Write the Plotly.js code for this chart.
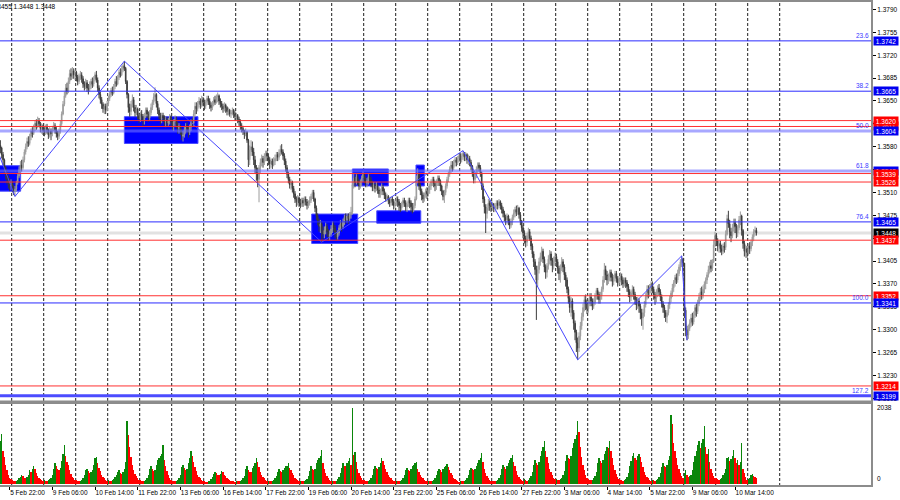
<!DOCTYPE html>
<html><head><meta charset="utf-8">
<script src="https://cdn.plot.ly/plotly-3.0.1.min.js"></script>
<style>html,body{margin:0;padding:0;background:#fff;}#chart{width:900px;height:500px;}</style>
</head><body><div id="chart"></div>
<script>
// Hourly GBPUSD bars, 5 Feb 15:00 .. 11 Mar 06:00. Prices stored as pips above 1.3000.
const firstOpenPips = 582;
const closePips = [
578,568,560,548,538,530,526,520,524,518,512,515,
525,535,545,552,548,560,572,580,588,585,596,604,600,610,616,612,620,
615,608,612,605,602,610,606,598,604,600,608,612,606,600,596,604,615,
630,645,658,670,665,680,692,688,696,
690,694,686,680,688,690,684,676,672,678,670,668,674,
680,676,684,690,682,670,660,652,
645,638,642,636,646,654,660,
666,662,672,680,676,686,694,690,698,704,700,
680,660,640,634,
645,652,640,632,638,628,622,630,626,620,628,636,630,624,632,640,648,656,660,646,636,628,622,
628,624,618,622,616,620,626,618,612,618,622,614,608,612,604,596,598,606,612,608,602,610,618,616,630,642,638,646,
650,644,652,648,642,648,654,650,644,640,646,652,648,656,658,650,646,
642,638,644,640,634,636,630,632,636,630,626,628,622,618,612,
608,604,600,602,590,560,575,580,572,560,548,540,530,548,556,
562,556,564,570,566,560,554,558,552,558,562,568,564,570,576,572,566,558,
548,538,530,522,526,516,508,500,496,502,494,492,
498,494,500,496,490,494,498,504,510,500,486,474,466,458,462,452,446,452,458,450,442,446,454,460,456,448,442,448,456,462,
458,466,472,468,474,470,476,480,522,532,526,
534,528,520,526,532,538,530,524,528,534,530,524,518,522,516,
520,514,508,512,518,512,506,500,504,
498,494,500,496,490,494,500,496,490,486,492,498,494,488,492,498,494,488,484,490,500,
530,538,520,512,506,500,506,512,508,514,520,
526,530,524,520,526,532,528,520,512,504,510,
520,530,538,546,552,548,556,560,556,562,566,560,566,570,
564,568,560,562,556,550,540,530,536,546,552,548,540,520,500,488,478,486,494,490,
488,492,486,490,494,490,496,490,484,478,472,468,474,466,460,466,472,478,484,480,486,476,466,456,448,440,434,444,450,440,
428,416,404,392,376,392,404,412,
420,408,396,388,398,408,416,406,398,404,412,404,394,386,394,
404,396,384,376,362,348,334,344,326,310,296,280,272,
290,306,320,334,346,340,332,340,350,344,336,342,352,360,354,346,352,
362,376,392,384,376,382,388,380,374,380,386,378,372,378,382,376,370,376,372,
366,358,350,356,362,354,346,338,344,336,326,318,326,
338,350,362,356,364,370,362,354,348,
356,364,358,350,340,334,326,320,326,338,
348,356,364,372,380,376,386,396,404,408,
402,330,300,292,302,
310,318,312,322,334,328,340,
350,358,352,362,370,376,
384,392,398,394,404,
430,444,436,428,432,424,420,428,426,
446,470,462,450,
444,456,464,458,448,456,468,474,
452,432,420,424,418,428,424,
434,442,450,452,448];
const highPips = [
590,580,572,562,550,542,536,532,530,528,522,520,
528,540,550,558,560,565,576,585,594,596,600,608,610,614,620,622,626,
624,618,616,614,610,614,615,608,610,608,612,618,616,610,604,608,620,
634,650,664,676,678,686,698,700,702,
700,698,696,690,692,696,694,688,680,684,682,676,680,
684,686,688,694,696,686,674,664,
656,648,646,646,650,658,664,
670,672,676,684,688,690,698,700,704,708,711,
702,682,662,646,
650,660,656,644,644,640,632,634,636,630,632,640,640,634,636,646,652,662,671,662,650,640,632,
632,632,628,626,626,624,630,628,622,622,628,626,618,616,614,608,604,610,616,618,612,614,622,624,636,648,648,650,
656,654,658,656,652,652,658,658,654,648,650,656,658,660,663,660,654,
650,646,648,646,642,640,638,636,640,638,634,632,630,626,622,
616,612,606,608,604,592,582,590,588,578,566,552,548,552,562,
568,566,570,574,574,570,564,562,562,564,568,572,572,576,582,584,576,570,
562,552,542,534,530,528,520,512,504,506,504,500,
502,502,504,504,500,498,504,508,514,514,502,490,478,470,468,466,458,458,464,462,454,452,460,466,466,460,452,452,460,468,
466,470,476,478,478,478,480,488,528,540,536,
538,538,530,530,536,542,540,534,532,538,538,534,528,526,524,
526,524,518,516,524,522,516,510,508,
506,502,504,504,500,498,504,504,500,494,496,502,502,498,496,502,502,498,494,494,504,
536,547,540,524,516,510,510,516,518,520,524,
530,534,534,528,530,536,536,530,522,514,514,
524,534,542,550,558,558,560,564,564,566,570,570,570,574,
572,572,570,568,566,560,552,544,540,550,556,556,552,542,524,504,492,492,500,498,
496,496,494,494,498,498,500,498,494,488,482,476,478,476,470,470,476,484,488,490,491,488,480,468,460,452,444,448,456,454,
444,432,420,408,398,398,410,418,
427,424,412,400,402,414,422,420,410,412,418,416,408,398,400,
411,408,400,388,380,366,352,350,348,330,314,300,288,
296,312,326,340,352,354,346,346,356,356,348,348,356,364,364,358,358,
366,382,402,398,390,386,392,392,386,384,390,390,382,382,388,386,380,380,380,
376,370,362,360,368,366,358,350,350,348,340,332,332,
344,356,368,368,370,374,374,366,358,
362,368,370,362,354,344,338,330,330,342,
352,360,370,376,384,386,392,400,408,413,
410,360,334,306,308,
316,324,326,328,338,340,346,
356,364,366,368,374,380,
388,398,404,407,408,
438,450,448,440,436,436,430,432,434,
452,476,482,468,
456,462,470,470,462,460,474,481,
476,454,436,430,428,432,434,
438,446,454,458,456];
const lowPips = [
570,562,552,540,530,522,516,512,514,510,506,504,
512,522,532,540,542,545,556,568,576,580,582,590,594,598,604,606,608,
610,602,600,598,596,598,600,592,594,590,596,604,600,594,590,592,600,
612,628,642,655,660,662,676,682,684,
684,682,680,674,676,682,678,670,666,668,664,660,664,
668,670,672,680,678,664,654,646,
638,632,630,630,634,642,650,
656,658,660,668,672,674,682,686,688,694,696,
676,654,632,626,
628,640,634,626,628,622,616,618,620,612,614,624,624,618,620,628,636,644,650,640,630,622,614,
616,618,612,610,610,612,614,612,606,604,612,608,600,600,598,590,588,594,600,602,594,598,604,610,612,626,630,634,
640,638,640,642,636,638,644,644,638,634,636,642,644,646,648,644,640,
636,632,634,632,628,628,626,624,628,624,620,620,616,612,606,
602,598,592,596,586,549,552,566,566,552,540,528,518,495,540,
550,548,552,558,558,552,546,548,546,550,552,558,558,560,566,568,560,552,
542,532,524,516,514,510,502,494,488,490,488,486,
488,488,490,490,484,486,490,494,500,496,480,468,460,450,448,434,438,440,446,442,436,437,442,448,450,440,436,438,444,452,
450,454,460,462,464,462,466,470,476,516,518,
522,522,514,516,520,526,524,518,518,522,524,518,512,512,510,
512,508,502,502,506,506,500,496,496,
492,488,490,490,484,486,490,488,482,480,482,488,488,482,480,488,486,480,478,480,486,
498,524,514,506,498,494,496,502,500,504,508,
514,520,518,512,514,520,520,512,506,498,494,
506,516,526,534,540,542,544,550,550,552,556,554,556,560,
558,558,554,552,550,544,534,524,524,532,540,542,534,514,494,478,448,470,482,482,
480,482,480,480,484,484,486,484,478,472,466,460,462,460,454,456,460,468,472,474,476,470,460,450,440,432,426,428,438,436,
422,410,396,384,315,366,386,398,
404,402,388,378,380,392,400,398,388,392,398,396,386,376,372,
390,388,376,366,356,340,326,320,316,300,284,266,254,
266,284,300,314,328,330,324,326,336,336,330,332,338,346,346,340,340,
346,358,372,376,368,370,374,374,366,368,374,372,366,368,372,368,364,366,364,
358,350,342,344,350,346,338,330,332,326,316,306,300,
320,334,346,348,350,356,356,346,338,
342,350,352,344,334,326,318,312,310,322,
332,342,350,358,366,370,372,382,390,396,
396,318,290,284,286,
298,304,306,308,318,320,324,
336,344,346,348,356,362,
370,380,386,388,390,
402,426,428,420,418,418,414,416,418,
422,444,456,440,
434,440,450,448,440,442,452,460,
444,424,412,410,410,414,416,
420,428,436,444,444];
// Tick volumes, one row per trading day
const tickVolume = [
1150,1350,900,720,520,380,260,180,140,
110,90,80,100,120,160,200,240,220,180,170,210,260,380,340,420,480,400,300,220,180,150,120,90,
120,100,90,110,140,180,260,420,560,480,400,380,450,620,800,1040,760,600,520,380,280,200,160,120,
110,90,80,100,130,170,240,380,420,350,300,320,380,520,700,720,560,440,360,260,200,160,130,100,
120,100,90,110,150,200,260,320,380,300,280,340,400,600,1680,1300,1000,720,520,380,280,220,170,130,
110,90,90,100,130,180,260,420,480,400,360,380,520,640,700,760,820,1050,640,480,360,260,180,120,
100,90,80,100,120,170,240,460,520,440,380,420,560,700,900,760,600,460,360,260,200,160,120,90,
80,70,70,80,100,140,200,280,340,300,260,240,280,350,320,260,220,180,150,120,100,90,80,70,
90,80,80,90,120,160,220,420,500,380,340,320,440,500,560,690,600,460,340,260,200,160,120,90,
100,90,80,100,120,160,220,320,400,360,320,380,440,480,500,560,440,380,300,240,180,140,110,90,
100,90,80,90,120,150,220,360,480,420,380,420,560,640,700,760,910,560,420,300,220,160,120,90,
100,90,80,100,140,200,300,440,560,500,480,560,620,700,520,2038,770,860,600,420,300,220,160,120,
110,90,80,100,130,180,260,420,500,440,400,460,560,690,620,520,420,340,260,200,160,130,100,80,
100,90,80,100,120,160,240,380,440,380,360,420,480,520,560,590,420,340,260,200,160,120,100,80,
100,90,80,100,130,170,240,360,420,380,340,400,460,500,530,460,380,300,240,180,140,110,90,70,
90,80,80,100,130,180,260,380,440,400,380,420,480,560,640,700,830,600,420,300,220,170,130,100,
100,90,80,100,130,170,240,420,520,460,400,480,560,640,700,770,600,480,360,260,200,150,120,90,
140,120,100,130,170,220,320,520,640,560,520,600,760,900,1000,1140,900,720,560,420,320,240,180,140,
150,130,120,140,180,240,360,620,780,700,680,760,960,1100,1200,1300,1670,1400,1000,720,520,380,260,180,
140,120,110,130,170,220,340,560,700,620,560,640,800,900,1000,960,1140,900,700,520,380,280,200,150,
120,110,100,120,150,200,300,480,620,760,830,700,640,760,800,720,600,460,340,260,200,160,120,100,
130,110,100,120,150,200,300,460,560,500,460,520,640,760,1840,1600,1100,900,700,520,400,300,220,160,
300,380,260,200,220,260,380,600,760,900,1040,1140,960,1100,1200,1550,1000,800,950,600,420,300,220,160,
160,140,130,150,180,240,300,420,700,740,620,680,760,917,700,560,660,520,600,1100,420,300,200,120,
140,160,240,270,220,200,160];

const timeLabels = ['5 Feb 22:00','9 Feb 06:00','10 Feb 14:00','11 Feb 22:00','13 Feb 06:00','16 Feb 14:00','17 Feb 22:00','19 Feb 06:00','20 Feb 14:00','23 Feb 22:00','25 Feb 06:00','26 Feb 14:00','27 Feb 22:00','3 Mar 06:00','4 Mar 14:00','5 Mar 22:00','9 Mar 06:00','10 Mar 14:00'];
const timeLabelBars = [7,39,71,103,135,167,199,231,263,295,327,359,391,423,455,487,519,551];
const priceTicks = [1.3790,1.3755,1.3720,1.3685,1.3650,1.3615,1.3580,1.3545,1.3510,1.3475,1.3440,1.3405,1.3370,1.3335,1.3300,1.3265,1.3230,1.3195];

// ZigZag swing points (bar, price)
const zigzagBars = [-5, 11, 93, 241, 347, 433, 511, 515];
const zigzagPrices = [1.3589, 1.3504, 1.3711, 1.3434, 1.3574, 1.3254, 1.3413, 1.3284];

// Supply/demand zones
const zoneStartBar = [-1, 93, 233.5, 264, 282.3, 311.7];
const zoneEndBar = [15.2, 148.2, 268, 291, 315.3, 318];
const zoneTop = [1.3551, 1.3626, 1.3477, 1.3546, 1.3482, 1.3552];
const zoneBottom = [1.3512, 1.3585, 1.3432, 1.3520, 1.3463, 1.3520];

// Horizontal levels (drawing order) and their kind
const levelPrices = [1.3742, 1.3665, 1.3611, 1.3620, 1.3604, 1.3543, 1.3539, 1.3526, 1.3465, 1.3448, 1.3437, 1.3352, 1.3341, 1.3214, 1.3199];
const levelKinds = ['fib','fib','red','red','fibWide','fibWide','red','red','fib','bid','red','red','fib','red','fibBold'];
const fibNames = ['23.6','38.2','50.0','61.8','76.4','100.0','127.2'];
const fibPrices = [1.3742, 1.3665, 1.3604, 1.3543, 1.3465, 1.3341, 1.3199];
const volumeMaxLabel = 2038;

// ---------- build ----------
const P = v => 1.3 + v / 10000;
const n = closePips.length;
const bars = Array.from({length: n}, (_, i) => i);
const close = closePips.map(P);
const open = close.map((c, i) => i ? close[i - 1] : P(firstOpenPips));
const high = highPips.map((h, i) => Math.max(P(h), open[i], close[i]));
const low = lowPips.map((l, i) => Math.min(P(l), open[i], close[i]));
const volColors = tickVolume.map((v, i) => (i === 0 || v > tickVolume[i - 1]) ? '#0a860a' : '#ff0000');

const FONT = 'Liberation Sans, Arial, sans-serif';
const traces = [
  {type: 'candlestick', x: bars, open: open, high: high, low: low, close: close, xaxis: 'x', yaxis: 'y',
   increasing: {line: {color: '#9c9c9c', width: 1}, fillcolor: '#9c9c9c'},
   decreasing: {line: {color: '#3a3a3a', width: 1}, fillcolor: '#3a3a3a'},
   whiskerwidth: 0, hoverinfo: 'skip', showlegend: false},
  {type: 'scatter', mode: 'lines', x: zigzagBars, y: zigzagPrices, xaxis: 'x', yaxis: 'y',
   line: {color: '#4646ff', width: 1}, hoverinfo: 'skip', showlegend: false},
  {type: 'bar', x: bars, y: tickVolume, xaxis: 'x', yaxis: 'y2', width: 1,
   marker: {color: volColors, line: {width: 0}}, hoverinfo: 'skip', showlegend: false}
];

const shapes = [];
for (let k = 0; k < zoneStartBar.length; k++) {
  shapes.push({type: 'rect', layer: 'below', xref: 'x', yref: 'y', x0: zoneStartBar[k], x1: zoneEndBar[k], y0: zoneBottom[k], y1: zoneTop[k],
    fillcolor: '#0000ff', line: {color: '#4d4dff', width: 1}});
}
// daily separators (first midnight after 9 bars, then every 24 bars)
for (let d = 0; d <= 24; d++) {
  shapes.push({type: 'line', layer: 'below', xref: 'x', yref: 'paper', x0: 8.5 + 24 * d, x1: 8.5 + 24 * d, y0: 0, y1: 1,
    line: {color: '#1e1e1e', width: 1, dash: '3px,2px'}});
}
const levelStyle = {
  fib: {color: '#2b2bff', width: 1, layer: 'above'},
  fibWide: {color: 'rgba(110,110,255,0.6)', width: 3, layer: 'above'},
  fibBold: {color: '#4c4cff', width: 3, layer: 'above'},
  red: {color: '#ff3030', width: 1, layer: 'above'},
  bid: {color: '#e2e2e2', width: 3, layer: 'below'}
};
const boxColor = {fib: '#0000f0', fibWide: '#0000f0', fibBold: '#0000f0', red: '#ff0000', bid: '#000000'};
levelPrices.forEach((p, k) => {
  const s = levelStyle[levelKinds[k]];
  shapes.push({type: 'line', layer: s.layer, xref: 'paper', yref: 'y', x0: 0, x1: 1, y0: p, y1: p,
    line: {color: s.color, width: s.width}});
});
// panel frames
shapes.push({type: 'rect', layer: 'above', xref: 'paper', yref: 'paper', x0: -0.01, x1: 1, y0: 0.17423, y1: 1,
  line: {color: '#8c8c8c', width: 2}, fillcolor: 'rgba(0,0,0,0)'});
shapes.push({type: 'rect', layer: 'above', xref: 'paper', yref: 'paper', x0: -0.01, x1: 1, y0: 0, y1: 0.17113,
  line: {color: '#8c8c8c', width: 2}, fillcolor: 'rgba(0,0,0,0)'});

const annotations = [];
fibNames.forEach((t, k) => {
  annotations.push({xref: 'paper', yref: 'y', x: 1, y: fibPrices[k], xanchor: 'right', yanchor: 'bottom', xshift: -1,
    text: t, showarrow: false, font: {family: FONT, size: 6.5, color: '#3a3aff'}});
});
levelPrices.forEach((p, k) => {
  annotations.push({xref: 'paper', yref: 'y', x: 1, y: p, xanchor: 'left', yanchor: 'middle', xshift: 1,
    text: p.toFixed(4), showarrow: false, bgcolor: boxColor[levelKinds[k]], borderpad: 0, width: 24, height: 8,
    font: {family: FONT, size: 6.5, color: '#ffffff'}});
});
annotations.push({xref: 'paper', yref: 'y2', x: 1, y: volumeMaxLabel, xanchor: 'left', yanchor: 'middle', xshift: 3,
  text: String(volumeMaxLabel), showarrow: false, font: {family: FONT, size: 6.5, color: '#000'}});
annotations.push({xref: 'paper', yref: 'y2', x: 1, y: 0, xanchor: 'left', yanchor: 'bottom', xshift: 3,
  text: '0', showarrow: false, font: {family: FONT, size: 6.5, color: '#000'}});
annotations.push({xref: 'paper', yref: 'paper', x: 58 / 872, y: 1 - 6 / 485, xanchor: 'right', yanchor: 'middle',
  text: 'GBPUSD,H1  1.3452 1.3455 1.3448 1.3448', showarrow: false, font: {family: FONT, size: 6.5, color: '#000'}});

const layout = {
  width: 900, height: 500,
  margin: {l: 0, r: 28, t: 1, b: 14, pad: 0},
  paper_bgcolor: '#ffffff', plot_bgcolor: '#ffffff',
  showlegend: false, bargap: 0,
  xaxis: {range: [-0.275, 653.725], anchor: 'y2', showgrid: false, zeroline: false, showline: false,
    tickmode: 'array', tickvals: timeLabelBars, ticktext: timeLabels, tickangle: 0, ticks: 'outside', ticklen: 3, tickcolor: '#000',
    ticklabelposition: 'outside right', tickfont: {family: FONT, size: 6.5, color: '#000'},
    rangeslider: {visible: false}, fixedrange: true},
  yaxis: {domain: [0.17423, 1], range: [1.31902, 1.38030], side: 'right', anchor: 'x',
    tickmode: 'array', tickvals: priceTicks, ticktext: priceTicks.map(v => v.toFixed(4)),
    ticks: 'outside', ticklen: 3, tickcolor: '#000', showgrid: false, zeroline: false, showline: false,
    tickfont: {family: FONT, size: 6.5, color: '#000'}, fixedrange: true},
  yaxis2: {domain: [0, 0.17113], range: [-40, 2160], anchor: 'x', showticklabels: false, showgrid: false,
    zeroline: false, showline: false, ticks: '', fixedrange: true},
  shapes: shapes, annotations: annotations
};
Plotly.newPlot('chart', traces, layout, {displayModeBar: false, staticPlot: true});
</script></body></html>
